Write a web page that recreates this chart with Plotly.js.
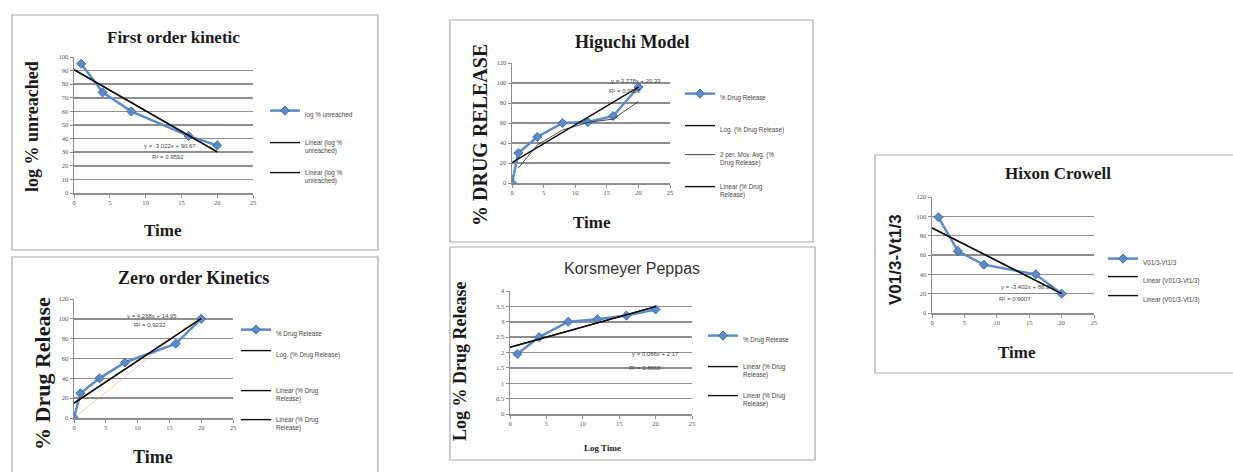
<!DOCTYPE html>
<html>
<head>
<meta charset="utf-8">
<script src="https://cdn.plot.ly/plotly-3.0.1.min.js"></script>
<style>
  html, body { margin: 0; padding: 0; background: #fff; }
  #chart { width: 1233px; height: 472px; }
</style>
</head>
<body>
<div id="chart"></div>
<script>
// ---- Release data for the five kinetic models ----
const timeFO = [1, 4, 8, 16, 20];
const logUnreached = [95, 74, 60, 42, 35];
const eqFO = [-3.022, 90.67];          // slope, intercept
const r2FO = 0.9592;

const timeZO = [0, 1, 4, 8, 16, 20];
const releaseZO = [0, 25, 40, 56, 75, 100];
const eqZO = [4.268, 14.95];
const r2ZO = 0.9232;

const timeHG = [0, 1, 4, 8, 12, 16, 20];
const releaseHG = [0, 30, 46, 60, 61, 67, 96];
const eqHG = [3.778, 20.33];
const r2HG = 0.9668;

const timeKP = [1, 4, 8, 12, 16, 20];
const logReleaseKP = [1.95, 2.5, 3.0, 3.08, 3.2, 3.4];
const eqKP = [0.066, 2.17];
const r2KP = 0.8868;

const timeHC = [1, 4, 8, 16, 20];
const cubeRootHC = [99, 64, 50, 40, 20];
const eqHC = [-3.402, 88.09];
const r2HC = 0.9007;

const xTicks = [0, 5, 10, 15, 20, 25];

// ---- helpers ----
const W = 1233, H = 472;
const fx = v => v / W;
const fy = v => 1 - v / H;
const SERIF = 'Liberation Serif, Times New Roman, serif';
const SANS = 'Liberation Sans, Arial, sans-serif';
const BLUE = '#5b8bc8';

function linePoints(eq, x0, x1) {
  return { x: [x0, x1], y: [eq[0] * x0 + eq[1], eq[0] * x1 + eq[1]] };
}
// Logarithmic trendline; like a spreadsheet, it cannot be fitted when a time value is zero,
// in which case only its legend entry remains
function logFit(xs, ys) {
  if (xs.some(x => x <= 0)) return { x: [xs[0]], y: [null] };
  const lx = xs.map(Math.log);
  const n = lx.length;
  const mx = lx.reduce((a, b) => a + b, 0) / n;
  const my = ys.reduce((a, b) => a + b, 0) / n;
  let sxx = 0, sxy = 0;
  lx.forEach((v, i) => { sxx += (v - mx) * (v - mx); sxy += (v - mx) * (ys[i] - my); });
  const a = sxy / sxx, b = my - a * mx;
  const cx = [], cy = [];
  for (let x = xs[0]; x <= xs[n - 1]; x += 0.25) { cx.push(x); cy.push(a * Math.log(x) + b); }
  return { x: cx, y: cy };
}
function movingAvg(xs, ys) {
  const mx = [], my = [];
  for (let i = 1; i < xs.length; i++) { mx.push(xs[i]); my.push((ys[i - 1] + ys[i]) / 2); }
  return { x: mx, y: my };
}
function originSlope(xs, ys) {
  let sxy = 0, sxx = 0;
  xs.forEach((x, i) => { sxy += x * ys[i]; sxx += x * x; });
  return sxy / sxx;
}

const traces = [];
const legends = {};
let legendCount = 0;
function addTrace(t, axisId, legendPos) {
  t.xaxis = 'x' + (axisId === 1 ? '' : axisId);
  t.yaxis = 'y' + (axisId === 1 ? '' : axisId);
  if (legendPos) {
    legendCount++;
    const key = legendCount === 1 ? 'legend' : 'legend' + legendCount;
    t.legend = key;
    t.showlegend = true;
    legends[key] = {
      x: fx(legendPos[0] - 12), y: fy(legendPos[1] - 4),
      xanchor: 'left', yanchor: 'top', valign: 'top',
      bgcolor: 'rgba(0,0,0,0)', borderwidth: 0,
      font: { family: SANS, size: 6.3, color: '#444' },
      itemwidth: 30, itemclick: false, itemdoubleclick: false, visible: true
    };
  } else {
    t.showlegend = false;
  }
  traces.push(t);
}
function dataTrace(x, y, name) {
  return {
    type: 'scatter', mode: 'lines+markers', x: x, y: y, name: name,
    line: { color: BLUE, width: 2.5 },
    marker: { symbol: 'diamond', size: 7, color: BLUE, line: { color: '#3f6fa8', width: 1 } }
  };
}
function trendTrace(pts, name, width, color) {
  return {
    type: 'scatter', mode: 'lines', x: pts.x, y: pts.y, name: name,
    line: { color: color || '#111', width: width || 1.4 }
  };
}

// Panel 1: first order
addTrace(dataTrace(timeFO, logUnreached, 'log % unreached'), 1, [277, 104]);
addTrace(trendTrace(linePoints(eqFO, 0, 20), 'Linear (log %<br>unreached)'), 1, [277, 136]);
addTrace(trendTrace(linePoints(eqFO, 0, 20), 'Linear (log %<br>unreached)'), 1, [277, 166]);

// Panel 2: zero order
addTrace(trendTrace({ x: [0, 20], y: [0, originSlope(timeZO, releaseZO) * 20] }, 'origin', 1, 'rgba(235,170,110,0.55)'), 2, null);
addTrace(dataTrace(timeZO, releaseZO, '% Drug Release'), 2, [248, 323]);
addTrace(trendTrace(logFit(timeZO, releaseZO), 'Log. (% Drug Release)'), 2, [248, 344]);
addTrace(trendTrace(linePoints(eqZO, 0, 20), 'Linear (% Drug<br>Release)'), 2, [248, 384]);
addTrace(trendTrace(linePoints(eqZO, 0, 20), 'Linear (% Drug<br>Release)'), 2, [248, 413]);

// Panel 3: Higuchi
addTrace(dataTrace(timeHG, releaseHG, '% Drug Release'), 3, [692, 87]);
addTrace(trendTrace(logFit(timeHG, releaseHG), 'Log. (% Drug Release)'), 3, [692, 119]);
addTrace(trendTrace(movingAvg(timeHG, releaseHG), '2 per. Mov. Avg. (%<br>Drug Release)', 0.9, '#333'), 3, [692, 148]);
addTrace(trendTrace(linePoints(eqHG, 0, 20), 'Linear (% Drug<br>Release)'), 3, [692, 180]);

// Panel 4: Korsmeyer Peppas
addTrace(dataTrace(timeKP, logReleaseKP, '% Drug Release'), 4, [715, 329]);
addTrace(trendTrace(linePoints(eqKP, 0, 20), 'Linear (% Drug<br>Release)'), 4, [715, 360]);
addTrace(trendTrace(linePoints(eqKP, 0, 20), 'Linear (% Drug<br>Release)'), 4, [715, 389]);

// Panel 5: Hixson Crowell
addTrace(dataTrace(timeHC, cubeRootHC, 'V01/3-Vt1/3'), 5, [1115, 252]);
addTrace(trendTrace(linePoints(eqHC, 0, 20), 'Linear (V01/3-Vt1/3)'), 5, [1115, 270]);
addTrace(trendTrace(linePoints(eqHC, 0, 20), 'Linear (V01/3-Vt1/3)'), 5, [1115, 289]);

// ---- axes ----
const GRID = '#8d8d8d';
function xAxis(l, r, anchor) {
  return {
    domain: [fx(l), fx(r)], range: [0, 25], tickvals: xTicks, anchor: anchor,
    showgrid: false, zeroline: false, showline: true, linecolor: GRID, linewidth: 1.5,
    ticks: 'outside', ticklen: 3, tickcolor: GRID,
    tickfont: { family: SERIF, size: 6.5, color: '#555' }, fixedrange: true
  };
}
function yAxis(top, bottom, range, dtick, anchor) {
  return {
    domain: [fy(bottom), fy(top)], range: range, dtick: dtick, anchor: anchor,
    showgrid: true, gridcolor: GRID, gridwidth: 1.5, zeroline: false,
    showline: true, linecolor: GRID, linewidth: 1.5,
    ticks: 'outside', ticklen: 3, tickcolor: GRID,
    tickfont: { family: SERIF, size: 6.5, color: '#555' }, fixedrange: true
  };
}

const layout = Object.assign({
  width: W, height: H,
  margin: { l: 0, r: 0, t: 0, b: 0 },
  showlegend: true,
  paper_bgcolor: '#fff', plot_bgcolor: 'rgba(0,0,0,0)',
  xaxis: xAxis(74, 253, 'y'), yaxis: yAxis(57, 193, [0, 100], 10, 'x'),
  xaxis2: xAxis(74, 233, 'y2'), yaxis2: yAxis(299, 418, [0, 120], 20, 'x2'),
  xaxis3: xAxis(512, 670, 'y3'), yaxis3: yAxis(63, 183, [0, 120], 20, 'x3'),
  xaxis4: xAxis(510, 692, 'y4'), yaxis4: yAxis(291, 414, [0, 4], 0.5, 'x4'),
  xaxis5: xAxis(932, 1094, 'y5'), yaxis5: yAxis(197, 313, [0, 120], 20, 'x5'),
  shapes: [
    [12, 15, 378, 250], [12, 257, 378, 480], [450, 20, 813, 242],
    [450, 247, 815, 460], [875, 155, 1240, 373]
  ].map(b => ({
    type: 'rect', xref: 'paper', yref: 'paper',
    x0: fx(b[0]), y0: fy(b[1]), x1: fx(b[2]), y1: fy(b[3]),
    line: { color: '#a9a9a9', width: 1.2 }
  })),
  annotations: []
}, legends);

function note(text, x, y, font, extra) {
  layout.annotations.push(Object.assign({
    text: text, x: fx(x), y: fy(y), xref: 'paper', yref: 'paper',
    xanchor: 'center', yanchor: 'middle', showarrow: false, font: font
  }, extra || {}));
}
const titleFont = s => ({ family: SERIF, size: s, color: '#1a1a1a', weight: 'bold' });
const eqFont = { family: SANS, size: 6, color: '#444' };
const fmtEq = eq => 'y = ' + eq[0] + 'x + ' + eq[1];

// panel titles
note('First order kinetic', 173, 37, titleFont(17));
note('Zero order Kinetics', 193, 278, titleFont(18));
note('Higuchi Model', 632, 42, titleFont(18));
note('Korsmeyer Peppas', 632, 268, { family: SANS, size: 16, color: '#333' });
note('Hixon Crowell', 1058, 173, titleFont(17));

// axis titles
note('log % unreached', 32, 127, titleFont(18), { textangle: -90 });
note('Time', 163, 230, titleFont(17));
note('% Drug Release', 42, 374, titleFont(22), { textangle: -90 });
note('Time', 153, 457, titleFont(18));
note('% DRUG RELEASE', 480, 135, titleFont(20), { textangle: -90 });
note('Time', 592, 223, titleFont(17));
note('Log % Drug Release', 460, 362, titleFont(18), { textangle: -90 });
note('Log Time', 602, 448, titleFont(9));
note('V01/3-Vt1/3', 895, 260, { family: 'Liberation Sans Narrow, Liberation Sans, sans-serif', size: 17, color: '#1a1a1a', weight: 'bold' }, { textangle: -90 });
note('Time', 1017, 352, titleFont(17));

// trendline equations
note(fmtEq(eqFO), 170, 146, eqFont);
note('R² = ' + r2FO, 168, 157, eqFont);
note(fmtEq(eqZO), 152, 316, eqFont);
note('R² = ' + r2ZO, 150, 325, eqFont);
note(fmtEq(eqHG), 636, 81, eqFont);
note('R² = ' + r2HG, 625, 91, eqFont);
note(fmtEq(eqKP), 655, 354, eqFont);
note('R² = ' + r2KP, 645, 368, eqFont);
note(fmtEq(eqHC), 1027, 287, eqFont);
note('R² = ' + r2HC, 1015, 299, eqFont);

Plotly.newPlot('chart', traces, layout, { staticPlot: true, displayModeBar: false });
</script>
</body>
</html>
